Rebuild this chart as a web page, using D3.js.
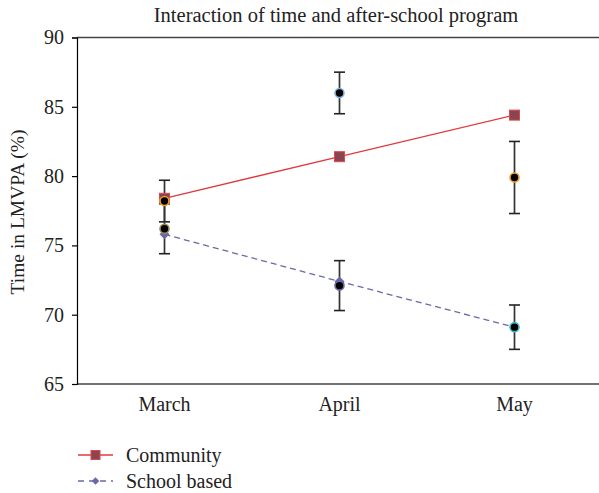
<!DOCTYPE html>
<html><head><meta charset="utf-8">
<script src="https://cdn.jsdelivr.net/npm/d3@7"></script>
<style>
body{margin:0;background:#fff;}
svg{display:block;}
svg text{font-family:"Liberation Serif","DejaVu Serif",serif !important;}
</style></head>
<body><svg id="c" width="599" height="493"></svg>
<script>
const months = ["March","April","May"];
const yTicks = [65,70,75,80,85,90];
const communityMeans = [78.4,81.4,84.4];
const schoolMeans = [75.8,72.4,69.1];
// individual observed points with error bars
const pointMonths = ["March","March","April","April","May","May"];
const pointValues = [78.2,76.2,86.0,72.1,79.9,69.1];
const pointErrors = [1.5,1.8,1.5,1.8,2.6,1.6];
const pointEdges = ["#f0a030","#9a8a5a","#7fb2e0","#6a68a8","#f0a030","#40b8c8"];
const title = "Interaction of time and after-school program";
const yLabel = "Time in LMVPA (%)";
const legendNames = ["Community","School based"];

const svg = d3.select("#c");
const pL=77, pR=602, pT=37.5, pB=384;
const x = d3.scalePoint().domain(months).range([pL,pR]).padding(0.5);
const y = d3.scaleLinear().domain([65,90]).range([pB,pT]);

// frame lines (top and bottom)
svg.append("line").attr("x1",pL).attr("x2",pR).attr("y1",y(90)).attr("y2",y(90))
  .attr("stroke","#444").attr("stroke-width",1.6);
svg.append("line").attr("x1",pL).attr("x2",pR).attr("y1",y(65)).attr("y2",y(65))
  .attr("stroke","#444").attr("stroke-width",1.6);

// y axis
const ya = svg.append("g").attr("transform",`translate(${pL},0)`)
  .call(d3.axisLeft(y).tickValues(yTicks).tickSize(5).tickPadding(8));
ya.attr("font-family",null).attr("font-size",null);
ya.select(".domain").attr("stroke","#000").attr("stroke-width",1.2);
ya.selectAll(".tick line").attr("stroke","#000").attr("stroke-width",1.2);
ya.selectAll(".tick text").attr("font-size",20).attr("fill","#222");

// x labels
svg.append("g").selectAll("text").data(months).join("text")
  .attr("x",d=>x(d)).attr("y",411).attr("text-anchor","middle")
  .attr("font-size",20).attr("fill","#222").text(d=>d);

// title
svg.append("text").attr("x",336).attr("y",22).attr("text-anchor","middle")
  .attr("font-size",20.5).attr("fill","#222").text(title);

// y label
svg.append("text").attr("transform","translate(24,212) rotate(-90)").attr("text-anchor","middle")
  .attr("font-size",19.5).attr("fill","#222").text(yLabel);

// error bars
const pts = pointValues.map((v,i)=>({m:pointMonths[i],v,e:pointErrors[i],c:pointEdges[i]}));
const eb = svg.append("g");
pts.forEach(p=>{
  const cx=x(p.m);
  eb.append("line").attr("x1",cx).attr("x2",cx).attr("y1",y(p.v+p.e)).attr("y2",y(p.v-p.e))
    .attr("stroke","#333").attr("stroke-width",1.7);
  [p.v+p.e,p.v-p.e].forEach(t=>{
    eb.append("line").attr("x1",cx-5.5).attr("x2",cx+5.5).attr("y1",y(t)).attr("y2",y(t))
      .attr("stroke","#222").attr("stroke-width",1.6);
  });
});

// community line
const line = d3.line().x((d,i)=>x(months[i])).y(d=>y(d));
svg.append("path").attr("d",line(communityMeans)).attr("fill","none")
  .attr("stroke","#e03a3e").attr("stroke-width",1.3);
svg.append("g").selectAll("rect").data(communityMeans).join("rect")
  .attr("x",(d,i)=>x(months[i])-5).attr("y",d=>y(d)-5).attr("width",10).attr("height",10)
  .attr("fill","#8a4650").attr("stroke","#e0474c").attr("stroke-width",1);

// school line
svg.append("path").attr("d",line(schoolMeans)).attr("fill","none")
  .attr("stroke","#6a68a8").attr("stroke-width",1.3).attr("stroke-dasharray","6,4");
const diamond = d3.symbol().type(d3.symbolSquare).size(50);
svg.append("g").selectAll("path").data(schoolMeans).join("path")
  .attr("transform",(d,i)=>`translate(${x(months[i])},${y(d)}) rotate(45)`).attr("d",diamond)
  .attr("fill","#6a68a8");

// points
svg.append("g").selectAll("circle").data(pts).join("circle")
  .attr("cx",d=>x(d.m)).attr("cy",d=>y(d.v)).attr("r",4.5)
  .attr("fill","#000").attr("stroke",d=>d.c).attr("stroke-width",1.6);

// legend
const lg = svg.append("g");
const ly = [455,481];
lg.append("line").attr("x1",78).attr("x2",113).attr("y1",ly[0]).attr("y2",ly[0]).attr("stroke","#e03a3e").attr("stroke-width",1.3);
lg.append("rect").attr("x",91).attr("y",ly[0]-4.5).attr("width",9).attr("height",9).attr("fill","#8a4650").attr("stroke","#e0474c");
lg.append("line").attr("x1",78).attr("x2",113).attr("y1",ly[1]).attr("y2",ly[1]).attr("stroke","#6a68a8").attr("stroke-width",1.3).attr("stroke-dasharray","6,5");
lg.append("path").attr("transform",`translate(95.5,${ly[1]}) rotate(45)`).attr("d",d3.symbol().type(d3.symbolSquare).size(28)).attr("fill","#6a68a8");
lg.selectAll("text").data(legendNames).join("text")
  .attr("x",126).attr("y",(d,i)=>ly[i]+6.5).attr("font-size",20).attr("fill","#222").text(d=>d);
</script></body></html>
